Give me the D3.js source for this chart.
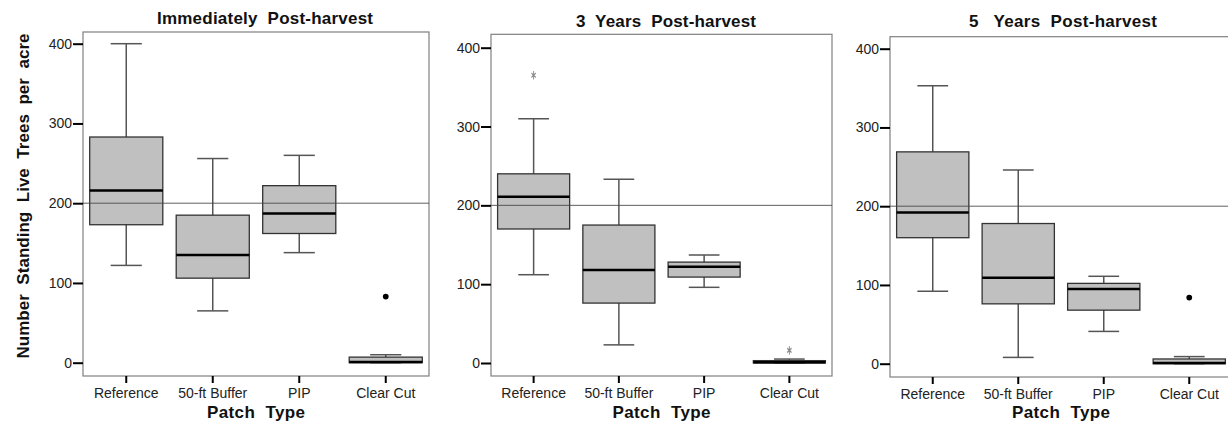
<!DOCTYPE html>
<html>
<head>
<meta charset="utf-8">
<script src="https://cdn.jsdelivr.net/npm/d3@7"></script>
<style>
  body { margin: 0; background: #fff; }
  svg { display: block; font-family: "Liberation Sans", Arial, sans-serif; }
</style>
</head>
<body>
<div id="grafiek"></div>
<script>
// categorieen en tick labels
const categories = ["Reference", "50-ft Buffer", "PIP", "Clear Cut"];
const yTicks = [0, 100, 200, 300, 400];
const referenceLine = 200;
const titles = ["Immediately  Post-harvest", "3  Years  Post-harvest", "5   Years  Post-harvest"];

// immediately post-harvest
const lowNow = [122, 65, 138, 0];
const q1Now = [173, 106, 162, 0];
const medianNow = [216, 135, 187, 1];
const q3Now = [283, 185, 222, 7];
const highNow = [400, 256, 260, 10];
const outliersNow = [{ cat: "Clear Cut", value: 83, kind: "dot" }];

// 3 years post-harvest
const low3 = [112, 23, 96, 0];
const q13 = [170, 76, 109, 0];
const median3 = [211, 118, 122, 1];
const q33 = [240, 175, 128, 3];
const high3 = [310, 233, 137, 5];
const outliers3 = [
  { cat: "Reference", value: 365, kind: "star" },
  { cat: "Clear Cut", value: 16, kind: "star" },
];

// 5 years post-harvest
const low5 = [92, 8, 41, 0];
const q15 = [160, 76, 68, 0];
const median5 = [192, 109, 95, 1];
const q35 = [269, 178, 102, 6];
const high5 = [353, 246, 111, 9];
const outliers5 = [{ cat: "Clear Cut", value: 84, kind: "dot" }];

// per paneel de data in objecten zetten
function boxes(low, q1, med, q3, high) {
  return categories.map((c, i) => ({ cat: c, low: low[i], q1: q1[i], med: med[i], q3: q3[i], high: high[i] }));
}

const panels = [
  { title: titles[0], data: boxes(lowNow, q1Now, medianNow, q3Now, highNow), outliers: outliersNow,
    left: 83, right: 429, top: 32, bottom: 376, y0: 362.7, y400: 43.7, titleX: 265, titleY: 24, titleLen: 216 },
  { title: titles[1], data: boxes(low3, q13, median3, q33, high3), outliers: outliers3,
    left: 491, right: 832, top: 34.3, bottom: 376, y0: 363, y400: 47.7, titleX: 666, titleY: 26.5, titleLen: 180 },
  { title: titles[2], data: boxes(low5, q15, median5, q35, high5), outliers: outliers5,
    left: 890, right: 1232, top: 36.7, bottom: 377, y0: 363.7, y400: 48.7, titleX: 1063, titleY: 27, titleLen: 188 },
];

const width = 1228;
const height = 423;

const svg = d3.select("#grafiek").append("svg")
  .attr("width", width)
  .attr("height", height);

panels.forEach((p, idx) => {
  const g = svg.append("g");

  // schalen
  const x = d3.scaleBand().domain(categories).range([p.left, p.right]).padding(0);
  const y = d3.scaleLinear().domain([0, 400]).range([p.y0, p.y400]);
  const bw = x.bandwidth();
  const boxW = bw * 0.845;
  const capW = bw * 0.36;

  // kader
  g.append("rect")
    .attr("x", p.left).attr("y", p.top)
    .attr("width", p.right - p.left).attr("height", p.bottom - p.top)
    .attr("fill", "none").attr("stroke", "#808080").attr("stroke-width", 1.2);

  // y as
  const yaxis = g.append("g")
    .attr("transform", `translate(${p.left},0)`)
    .call(d3.axisLeft(y).tickValues(yTicks).tickSize(10).tickPadding(1));
  yaxis.select(".domain").remove();
  yaxis.selectAll("line").attr("stroke", "#000").attr("stroke-width", 2);
  yaxis.selectAll("text").attr("font-size", 14).attr("fill", "#222").attr("font-family", null);

  // x as
  const xaxis = g.append("g")
    .attr("transform", `translate(0,${p.bottom})`)
    .call(d3.axisBottom(x).tickSize(7).tickPadding(5));
  xaxis.select(".domain").remove();
  xaxis.selectAll("line").attr("stroke", "#000").attr("stroke-width", 2);
  xaxis.selectAll("text").attr("font-size", 14).attr("fill", "#222").attr("font-family", null);

  // clip zodat niets buiten het kader valt
  const clipId = "clip" + idx;
  svg.append("clipPath").attr("id", clipId).append("rect")
    .attr("x", p.left).attr("y", p.top)
    .attr("width", p.right - p.left).attr("height", p.bottom - p.top);
  const plot = g.append("g").attr("clip-path", `url(#${clipId})`);

  // boxen
  const box = plot.selectAll(".box").data(p.data).join("g").attr("class", "box");
  const cx = (d) => x(d.cat) + bw / 2;

  // whiskers
  box.append("line")
    .attr("x1", cx).attr("x2", cx)
    .attr("y1", (d) => y(d.high)).attr("y2", (d) => y(d.low))
    .attr("stroke", "#555").attr("stroke-width", 1.5);
  box.append("line")
    .attr("x1", (d) => cx(d) - capW / 2).attr("x2", (d) => cx(d) + capW / 2)
    .attr("y1", (d) => y(d.high)).attr("y2", (d) => y(d.high))
    .attr("stroke", "#555").attr("stroke-width", 1.5);
  box.append("line")
    .attr("x1", (d) => cx(d) - capW / 2).attr("x2", (d) => cx(d) + capW / 2)
    .attr("y1", (d) => y(d.low)).attr("y2", (d) => y(d.low))
    .attr("stroke", "#555").attr("stroke-width", 1.5);

  box.append("rect")
    .attr("x", (d) => cx(d) - boxW / 2)
    .attr("width", boxW)
    .attr("y", (d) => y(d.q3))
    .attr("height", (d) => Math.max(1, y(d.q1) - y(d.q3)))
    .attr("fill", "#c0c0c0").attr("stroke", "#333").attr("stroke-width", 1.3);

  // referentielijn op 200
  plot.append("line")
    .attr("x1", p.left).attr("x2", p.right)
    .attr("y1", y(referenceLine)).attr("y2", y(referenceLine))
    .attr("stroke", "#444").attr("stroke-width", 1).attr("opacity", 0.85);

  // mediaan
  box.append("line")
    .attr("x1", (d) => cx(d) - boxW / 2).attr("x2", (d) => cx(d) + boxW / 2)
    .attr("y1", (d) => y(d.med)).attr("y2", (d) => y(d.med))
    .attr("stroke", "#000").attr("stroke-width", 2.5);

  // uitschieters
  p.outliers.forEach((o) => {
    const ox = x(o.cat) + bw / 2;
    if (o.kind === "dot") {
      plot.append("path")
        .attr("d", d3.symbol(d3.symbolCircle, 26)())
        .attr("transform", `translate(${ox},${y(o.value)})`)
        .attr("fill", "#000");
    } else {
      plot.append("path")
        .attr("d", d3.symbol(d3.symbolAsterisk, 30)())
        .attr("transform", `translate(${ox},${y(o.value)}) scale(0.75,1.3)`)
        .attr("fill", "none").attr("stroke", "#8a8a8a").attr("stroke-width", 1.2);
    }
  });

  // titel
  svg.append("text")
    .attr("x", p.titleX).attr("y", p.titleY)
    .attr("text-anchor", "middle")
    .attr("font-size", 17).attr("font-weight", "bold").attr("fill", "#111")
    .attr("textLength", p.titleLen).attr("lengthAdjust", "spacing")
    .style("white-space", "pre")
    .text(p.title);

  // x as label
  svg.append("text")
    .attr("x", (p.left + p.right) / 2).attr("y", 418)
    .attr("text-anchor", "middle")
    .attr("font-size", 17).attr("font-weight", "bold").attr("fill", "#111")
    .attr("textLength", 98).attr("lengthAdjust", "spacing")
    .style("white-space", "pre")
    .text("Patch  Type");

  // y as label alleen links
  if (idx === 0) {
    svg.append("text")
      .attr("transform", "translate(29,196) rotate(-90)")
      .attr("text-anchor", "middle")
      .attr("font-size", 17).attr("font-weight", "bold").attr("fill", "#111")
      .attr("textLength", 325).attr("lengthAdjust", "spacing")
      .style("white-space", "pre")
      .text("Number  Standing  Live  Trees  per  acre");
  }
});
</script>
</body>
</html>
